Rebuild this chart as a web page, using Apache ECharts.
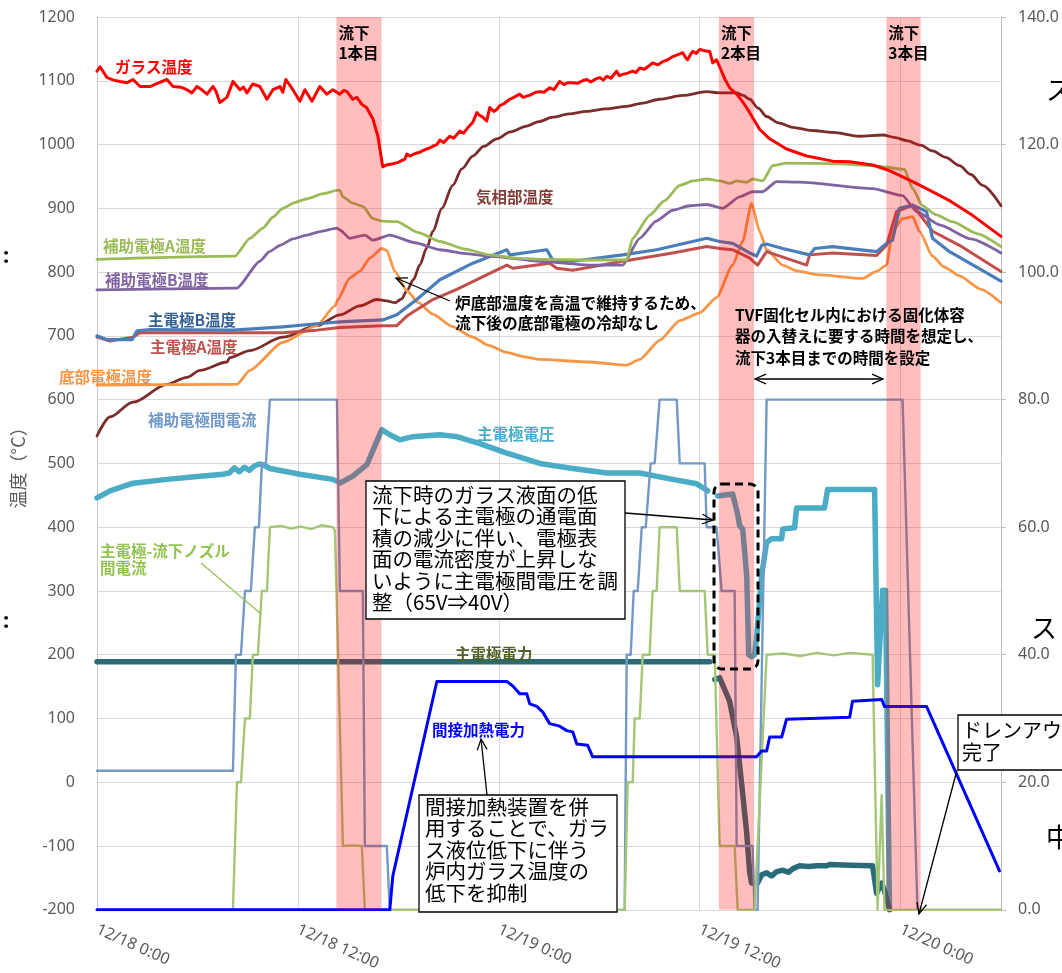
<!DOCTYPE html>
<html>
<head>
<meta charset="utf-8">
<script src="https://cdn.jsdelivr.net/npm/echarts/dist/echarts.min.js"></script>
<style>
html,body{margin:0;padding:0;background:#fff;overflow:hidden;}
#chart{width:1062px;height:973px;}
</style>
</head>
<body>
<div id="chart"></div>
<script>
// Time axis: hours elapsed since 12/18 0:00
const tickLabels = ['12/18 0:00', '12/18 12:00', '12/19 0:00', '12/19 12:00', '12/20 0:00'];

// Pouring (流下) periods [start h, end h, label]
const pourPeriods = [
  [14.3, 17.0, '流下\n1本目'],
  [37.15, 39.25, '流下\n2本目'],
  [47.15, 49.2, '流下\n3本目']
];

// Temperatures (°C) — left axis, [hour, value]
const glassTemp = [[0,1115],[0.18,1122],[0.6,1105],[1.0,1101],[1.37,1099],[1.8,1097],[2.15,1102],[2.57,1091],[3.16,1091],[3.6,1096],[4.18,1102],[4.54,1091],[5.0,1090],[5.37,1086],[5.67,1081],[5.97,1091],[6.3,1085],[6.57,1079],[6.93,1091],[7.1,1084],[7.34,1066],[7.76,1074],[8.12,1099],[8.54,1086],[8.75,1090],[8.96,1081],[9.3,1095],[9.73,1091],[10.15,1071],[10.51,1086],[10.93,1091],[11.1,1082],[11.28,1102],[11.7,1086],[12.12,1068],[12.42,1086],[12.84,1068],[13.31,1091],[13.73,1079],[14.09,1086],[14.51,1079],[14.75,1085],[14.93,1083],[15.28,1071],[15.52,1074],[15.82,1063],[16.1,1058],[16.48,1040],[16.78,1013],[17.07,965],[17.3,968],[17.67,970],[18.0,972],[18.2,975],[18.39,977],[18.51,985],[18.7,982],[19.0,986],[19.28,988],[19.6,992],[19.9,995],[20.1,998],[20.3,1000],[20.48,1007],[20.7,1003],[21.07,1013],[21.3,1010],[21.67,1021],[21.9,1018],[22.2,1028],[22.45,1035],[22.69,1050],[22.85,1046],[23.04,1043],[23.28,1037],[23.46,1058],[23.7,1052],[23.88,1055],[24.06,1061],[24.3,1064],[24.66,1071],[24.9,1074],[25.25,1079],[25.45,1074],[25.67,1076],[25.9,1078],[26.2,1082],[26.45,1083],[26.7,1082],[27.04,1089],[27.3,1086],[27.64,1099],[27.9,1094],[28.1,1097],[28.42,1097],[28.7,1096],[29.0,1100],[29.25,1102],[29.5,1098],[29.8,1103],[30.03,1105],[30.25,1101],[30.45,1107],[30.7,1104],[31.04,1115],[31.2,1108],[31.4,1110],[31.7,1112],[32.0,1115],[32.2,1113],[32.42,1120],[32.7,1118],[33.0,1124],[33.19,1128],[33.5,1125],[33.79,1130],[34.1,1133],[34.39,1138],[34.7,1141],[34.99,1144],[35.15,1137],[35.28,1133],[35.45,1141],[35.58,1146],[35.8,1143],[36.0,1149],[36.3,1147],[36.6,1146],[36.78,1128],[37.01,1133],[37.19,1122],[37.5,1103],[37.79,1089],[38.21,1079],[38.6,1066],[38.99,1050],[39.58,1024],[40.18,1009],[41.19,993],[42.39,982],[43.94,974],[44.96,973],[46.33,968],[47.34,959],[48.72,942],[49.55,931],[50.93,912],[52.3,889],[54,856]];

const vaporTemp = [[0,543],[0.78,573],[2.15,596],[4.18,624],[5.37,635],[6.15,646],[7.76,659],[7.94,666],[9.13,677],[11.1,698],[13.13,716],[14.51,733],[15.7,747],[16.72,757],[17.3,755],[17.79,752],[18.2,758],[18.51,771],[18.9,788],[19.28,811],[19.7,838],[20.06,864],[20.6,900],[21.25,936],[21.8,962],[22.45,982],[23.1,997],[23.88,1009],[24.7,1020],[25.67,1029],[26.4,1036],[27.22,1043],[28.2,1048],[29.25,1052],[30.4,1056],[31.64,1060],[32.6,1065],[33.61,1071],[35.0,1077],[36.42,1083],[37.19,1081],[38.21,1081],[38.6,1077],[38.99,1071],[39.5,1057],[40.0,1044],[40.7,1034],[41.55,1027],[42.7,1022],[43.94,1019],[45.55,1013],[46.93,1015],[47.7,1011],[48.36,1006],[49.2,999],[49.91,990],[50.7,980],[51.52,967],[52.2,953],[52.9,936],[54,904]];

const auxATemp = [[0,820],[8.24,825],[9.13,853],[9.91,869],[10.5,886],[11.1,900],[11.8,909],[12.54,915],[13.5,923],[14.33,928],[14.51,928],[14.69,918],[15.28,908],[15.88,903],[16.48,884],[17.01,880],[17.91,879],[19.2,862],[20.48,848],[22.0,836],[23.46,827],[25.0,822],[26.45,820],[29.43,819],[31.64,819],[32.0,853],[33.01,889],[33.9,912],[34.81,936],[35.6,943],[36.42,946],[37.19,943],[37.79,939],[38.21,943],[38.81,941],[39.16,946],[39.76,943],[40.36,967],[41.19,971],[43.94,970],[46.33,967],[48.24,961],[48.72,931],[49.31,904],[50.1,890],[51.1,879],[52.6,860],[54,840]];

const auxBTemp = [[0,772],[8.36,775],[9.73,817],[10.3,832],[10.93,842],[11.7,852],[12.54,858],[13.4,864],[14.33,869],[14.51,866],[15.1,853],[16.0,858],[16.48,850],[17.49,858],[19.0,846],[20.48,835],[22.0,829],[23.46,825],[26.45,817],[29.43,811],[31.4,811],[32.42,853],[33.4,880],[34.39,897],[35.4,904],[36.42,906],[37.37,900],[38.39,918],[39.16,926],[39.76,926],[40.6,942],[41.97,941],[46.33,931],[48.12,920],[48.96,895],[50.33,874],[52.2,852],[54,830]];

const mainBTemp = [[0,700],[0.6,694],[2.09,694],[2.39,708],[3.16,710],[8.12,709],[11.1,714],[13.13,719],[14.51,722],[17.07,725],[17.91,733],[19.1,757],[20.48,788],[22.45,814],[24.48,835],[24.66,827],[26.87,835],[27.22,819],[28.42,817],[31.4,827],[33.43,835],[36.42,853],[37.19,848],[37.97,845],[38.99,830],[39.4,825],[39.7,842],[40.0,844],[40.96,837],[42.57,827],[42.87,837],[43.94,840],[46.57,832],[47.16,845],[47.52,850],[47.94,900],[48.72,905],[49.55,895],[49.91,853],[50.93,832],[54,786]];

const mainATemp = [[0,698],[0.78,692],[2.15,698],[2.57,705],[8.12,705],[11.1,705],[13.13,709],[14.51,713],[17.07,716],[17.91,716],[18.51,731],[20.06,757],[21.49,773],[24.48,811],[24.84,806],[27.04,814],[27.46,806],[28.42,803],[31.4,817],[34.39,830],[36.42,840],[37.19,837],[37.97,835],[38.99,822],[39.46,811],[40.0,832],[42.39,811],[42.57,827],[43.94,830],[46.57,826],[47.16,842],[47.76,895],[48.72,905],[49.91,864],[51.52,842],[54,801]];

const bottomTemp = [[0,623],[8.36,624],[9.13,646],[11.1,690],[13.13,716],[14.21,747],[14.39,757],[15.1,791],[15.7,801],[16.3,822],[17.01,837],[17.31,834],[17.79,801],[18.51,771],[19.2,752],[20.06,734],[21.2,715],[22.45,698],[23.4,685],[24.48,674],[25.4,668],[26.45,663],[29.43,659],[31.64,654],[32.42,663],[33.61,693],[34.81,724],[36.0,736],[37.01,760],[37.97,811],[38.57,848],[39.1,908],[39.58,864],[40.0,835],[40.96,811],[41.8,802],[42.99,796],[45.73,790],[46.57,801],[47.16,811],[47.52,864],[48.12,884],[48.72,887],[49.13,864],[49.91,825],[50.6,808],[51.52,794],[52.8,773],[54,752]];

// Electrical quantities — right axis, [hour, value]
const auxCurrent = [[0,21.8],[8.12,21.8],[8.3,40],[8.6,40],[8.84,50],[9.19,50],[9.43,60],[9.67,60],[9.85,70],[10.09,70],[10.33,80],[14.33,80],[14.51,50],[15.88,50],[16.0,10],[17.31,10],[17.49,0],[31.52,0],[31.64,40],[31.88,40],[32.06,50],[32.3,50],[32.54,60],[32.78,60],[33.07,70],[33.31,70],[33.61,80],[34.63,80],[34.81,70],[36.3,70],[36.42,60],[37.01,60],[37.31,50],[38.09,50],[38.21,10],[39.16,10],[39.28,0],[39.46,0],[40.0,80],[48.12,80],[49.01,0],[54,0]];

const nozzleCurrent = [[0,0],[8.12,0],[8.36,20],[8.6,20],[8.84,30],[9.13,30],[9.31,40],[9.61,40],[9.85,50],[10.15,50],[10.33,60],[11.0,60.2],[11.6,59.8],[12.2,60.1],[12.8,59.7],[13.4,60.3],[14.09,60],[14.21,59.5],[14.69,10],[15.3,10.1],[15.82,10],[16.0,0],[31.52,0],[31.7,20],[32.0,20],[32.12,30],[32.42,30],[32.6,40],[33.01,40],[33.19,50],[33.43,50],[33.61,60],[34.63,60],[34.81,50],[36.3,50],[36.48,40],[36.9,40],[37.19,10],[38.09,10],[38.27,0],[39.28,0],[40.0,40],[41.0,40.2],[42.0,39.8],[43.0,40.3],[44.0,39.9],[45.0,40.3],[46.33,40],[46.63,0],[46.87,18],[47.04,0],[54,0]];

const mainVoltage = [[0,64.6],[0.78,65.7],[2.15,66.9],[4.18,67.5],[6.15,68.0],[7.52,68.3],[7.9,68.5],[8.2,69.3],[8.5,68.7],[8.8,69.4],[9.1,68.9],[9.4,69.6],[9.7,69.9],[9.91,69.8],[10.33,69.2],[11.1,68.8],[12.12,68.3],[14.09,67.5],[14.39,67.1],[14.51,66.9],[15.28,68.0],[16.12,69.8],[17.01,75.3],[17.49,74.5],[18.09,73.7],[18.87,74.2],[20.48,74.5],[21.49,74.2],[22.87,73.1],[24.48,71.6],[26.45,70.0],[28.42,69.2],[30.45,68.5],[32.42,68.5],[34.39,67.5],[35.82,66.8],[36.3,66.0],[36.48,65.7],null,[37.07,64.9],[37.97,65.2],[38.27,62.0],[38.39,60.2],[38.57,59.7],[38.81,52.4],[38.93,40.0],[39.1,39.7],[39.28,40.0],[39.4,42.6],[39.7,52.4],[40.0,57.6],[40.3,58.2],[40.9,58.2],[40.96,59.7],[41.67,59.9],[41.79,63.0],[43.46,63.0],[43.64,65.9],[46.45,65.9],[46.63,35.3],[46.93,50.1],[47.1,50.1],[47.34,0]];

const mainPower = [[0,38.9],[5.0,38.9],[10.0,38.9],[20.0,38.9],[30.0,38.9],[36.6,38.9],null,[36.9,36.1],[37.19,36.4],[37.79,32.7],[38.21,27.1],[38.57,18.2],[38.81,12.0],[38.99,5.8],[39.1,4.2],[39.46,4.2],[39.7,5.5],[40.0,5.8],[40.3,5.3],[40.6,6.0],[40.96,6.2],[41.3,5.9],[41.6,6.5],[41.97,6.9],[42.5,6.8],[43.0,6.9],[43.58,6.9],[43.76,7.1],[45.0,7.0],[46.33,6.9],[46.57,2.6],[46.87,4.2],[47.04,3.0],[47.34,0]];

const indirectPower = [[0,0],[17.49,0],[17.67,5.3],[20.3,35.8],[24.48,35.8],[24.84,35.1],[25.25,33.9],[25.67,33.9],[25.85,32.3],[26.27,31.9],[26.63,31.0],[27.04,29.2],[27.64,28.8],[28.06,28.1],[28.42,27.9],[28.66,26.0],[29.31,25.8],[29.61,24.0],[39.4,24.0],[39.7,24.9],[40.0,24.9],[40.18,27.1],[40.9,27.1],[41.19,29.9],[44.96,30.2],[45.13,32.7],[46.87,33.0],[47.04,31.9],[49.55,31.9],[53.91,6.1]];

const JP = '"Noto Sans CJK JP", "Noto Sans", sans-serif';
const AX = '"Noto Sans", "Noto Sans CJK JP", sans-serif';

function line(name, data, color, width, yIdx, smooth) {
  return {
    name: name, type: 'line', data: data, yAxisIndex: yIdx,
    showSymbol: false, symbol: 'none', connectNulls: false,
    smooth: smooth || false, smoothMonotone: 'x',
    lineStyle: { color: color, width: width, join: 'round', cap: 'round' },
    itemStyle: { color: color }, z: 2, silent: true
  };
}

const series = [
  line('気相部温度', vaporTemp, '#7B2D2B', 2.8, 0, 0.3),
  line('底部電極温度', bottomTemp, '#F79646', 2.8, 0, 0.2),
  line('主電極A温度', mainATemp, '#C0504D', 3, 0),
  line('主電極B温度', mainBTemp, '#4A7EBB', 3.2, 0),
  line('補助電極B温度', auxBTemp, '#8064A2', 2.8, 0, 0.2),
  line('補助電極A温度', auxATemp, '#9BBB59', 2.8, 0, 0.2),
  line('ガラス温度', glassTemp, '#FF0000', 3, 0),
  line('主電極電圧', mainVoltage, '#4BACC6', 5.5, 1),
  line('主電極電力', mainPower, '#2A6B79', 5.5, 1),
  line('補助電極間電流', auxCurrent, '#7399C6', 2.4, 1),
  line('主電極-流下ノズル間電流', nozzleCurrent, '#A4C777', 2.4, 1),
  line('間接加熱電力', indirectPower, '#0000FF', 3, 1),
  {
    name: 'pour', type: 'line', data: [], yAxisIndex: 0, silent: true,
    markArea: {
      silent: true, z: 10,
      itemStyle: { color: 'rgba(255,0,0,0.26)' },
      label: {
        show: true, position: [2, 6], color: '#000', fontWeight: 'bold',
        fontSize: 15.5, lineHeight: 20, fontFamily: JP, align: 'left', verticalAlign: 'top'
      },
      data: pourPeriods.map(p => [{ xAxis: p[0], name: p[2] }, { xAxis: p[1] }])
    }
  }
];

// Annotation helpers
function arrowLines(x1, y1, x2, y2, both) {
  const els = [{ type: 'line', z: 30, shape: { x1: x1, y1: y1, x2: x2, y2: y2 }, style: { stroke: '#000', lineWidth: 1.3 } }];
  const head = (ax, ay, bx, by) => {
    const a = Math.atan2(by - ay, bx - ax), L = 12, t = 0.42;
    return { type: 'polyline', z: 30, shape: { points: [[bx - L * Math.cos(a - t), by - L * Math.sin(a - t)], [bx, by], [bx - L * Math.cos(a + t), by - L * Math.sin(a + t)]] }, style: { stroke: '#000', lineWidth: 1.3, fill: null } };
  };
  els.push(head(x1, y1, x2, y2));
  if (both) els.push(head(x2, y2, x1, y1));
  return els;
}
function label(text, x, y, color, size, lh) {
  return { type: 'text', z: 30, style: { text: text, x: x, y: y, fill: color, fontFamily: JP, fontWeight: 'bold', fontSize: size || 15.5, lineHeight: lh || 18, verticalAlign: 'middle', align: 'left' } };
}
function box(x, y, w, h, text, tx, ty, size, lh) {
  return [
    { type: 'rect', z: 30, shape: { x: x, y: y, width: w, height: h }, style: { fill: '#fff', stroke: '#000', lineWidth: 1.3 } },
    { type: 'text', z: 31, style: { text: text, x: tx, y: ty, fill: '#000', fontFamily: JP, fontSize: size, lineHeight: lh, verticalAlign: 'top', align: 'left' } }
  ];
}

const graphics = [].concat(
  [
    label('ガラス温度', 115, 67, '#FF0000', 15.5),
    label('気相部温度', 476, 197, '#843C39', 15.5),
    label('補助電極A温度', 103, 246, '#9BBB59', 15.5),
    label('補助電極B温度', 105, 280, '#8064A2', 15.5),
    label('主電極B温度', 148, 320, '#376092', 15.5),
    label('主電極A温度', 150, 347, '#C0504D', 15.5),
    label('底部電極温度', 59, 377, '#F79646', 15.5),
    label('補助電極間電流', 148, 420, '#6F97C9', 15.5),
    label('主電極電圧', 477, 434, '#4BACC6', 15.5),
    label('主電極-流下ノズル\n間電流', 100, 560, '#92C352', 15.5, 17),
    label('主電極電力', 455, 654, '#4F6228', 15.5),
    label('間接加熱電力', 432, 730, '#0000FF', 15.5),
    { type: 'line', z: 30, shape: { x1: 201, y1: 563, x2: 261, y2: 614 }, style: { stroke: '#92C352', lineWidth: 1.2 } },
    { type: 'text', z: 30, style: { text: '炉底部温度を高温で維持するため、\n流下後の底部電極の冷却なし', x: 455, y: 292.5, fill: '#000', fontFamily: JP, fontWeight: 'bold', fontSize: 15.7, lineHeight: 20.5, verticalAlign: 'top' } },
    { type: 'text', z: 30, style: { text: 'TVF固化セル内における固化体容\n器の入替えに要する時間を想定し、\n流下3本目までの時間を設定', x: 735, y: 304, fill: '#000', fontFamily: JP, fontWeight: 'bold', fontSize: 15.5, lineHeight: 21.5, verticalAlign: 'top' } },
    { type: 'rect', z: 30, shape: { x: 714, y: 484, width: 44, height: 185, r: 8 }, style: { fill: null, stroke: '#000', lineWidth: 3, lineDash: [8, 5] } },
    // clipped text fragments at the page edges
    { type: 'text', z: 30, style: { text: ':', x: 3, y: 257, fill: '#000', fontFamily: AX, fontWeight: 'bold', fontSize: 22, verticalAlign: 'middle' } },
    { type: 'text', z: 30, style: { text: ':', x: 3, y: 622, fill: '#000', fontFamily: AX, fontWeight: 'bold', fontSize: 22, verticalAlign: 'middle' } },
    { type: 'text', z: 30, style: { text: 'ス', x: 1046, y: 90, fill: '#000', fontFamily: JP, fontSize: 26, verticalAlign: 'middle' } },
    { type: 'text', z: 30, style: { text: 'スト', x: 1031, y: 628, fill: '#000', fontFamily: JP, fontSize: 26, verticalAlign: 'middle' } },
    { type: 'text', z: 30, style: { text: '中', x: 1046, y: 837, fill: '#000', fontFamily: JP, fontSize: 26, verticalAlign: 'middle' } }
  ],
  box(366, 481, 259, 138, '流下時のガラス液面の低\n下による主電極の通電面\n積の減少に伴い、電極表\n面の電流密度が上昇しな\nいように主電極間電圧を調\n整（65V⇒40V）', 372, 484.5, 20.5, 21.4),
  box(419, 795, 198, 117, '間接加熱装置を併\n用することで、ガラ\nス液位低下に伴う\n炉内ガラス温度の\n低下を抑制', 425, 796, 20.5, 21.5),
  box(958, 715, 120, 55, 'ドレンアウト\n完了', 962, 719, 20, 22),
  arrowLines(625, 513, 713, 520, false),
  arrowLines(487, 795, 481, 739, false),
  arrowLines(957, 770, 919, 914, false),
  arrowLines(450, 301, 396, 278, false),
  arrowLines(755, 379, 883, 379, true)
);

const chart = echarts.init(document.getElementById('chart'), null, { renderer: 'canvas', width: 1062, height: 973 });
chart.setOption({
  animation: false,
  backgroundColor: '#fff',
  grid: { left: 97, right: 61, top: 17, bottom: 56, containLabel: false },
  xAxis: {
    type: 'value', min: 0, max: 54, interval: 12,
    axisLine: { show: false }, axisTick: { show: false },
    splitLine: { show: true, lineStyle: { color: '#D9D9D9', width: 1 } },
    axisLabel: {
      rotate: -24, margin: 19, color: '#595959', fontSize: 16, fontFamily: AX,
      showMinLabel: true, showMaxLabel: false,
      formatter: v => (v % 12 === 0 && tickLabels[v / 12]) ? tickLabels[v / 12] : ''
    }
  },
  yAxis: [
    {
      type: 'value', min: -200, max: 1200, interval: 100,
      name: '温度（°C）', nameLocation: 'middle', nameRotate: 90, nameGap: 70,
      nameTextStyle: { color: '#595959', fontSize: 18, fontFamily: JP },
      axisLine: { show: true, lineStyle: { color: '#C8C8C8', width: 1 } },
      axisTick: { show: false },
      axisLabel: { color: '#595959', fontSize: 16, fontFamily: AX, margin: 22, formatter: v => String(v) },
      splitLine: { show: true, lineStyle: { color: '#D9D9D9', width: 1 } }
    },
    {
      type: 'value', min: 0, max: 140, interval: 20, position: 'right',
      axisLine: { show: true, lineStyle: { color: '#BFBFBF', width: 1 } },
      axisTick: { show: true, inside: false, length: 5, lineStyle: { color: '#BFBFBF' } },
      axisLabel: { color: '#595959', fontSize: 16, fontFamily: AX, margin: 17, formatter: v => v.toFixed(1) },
      splitLine: { show: false }
    }
  ],
  series: series,
  graphic: { elements: graphics }
});
</script>
</body>
</html>
